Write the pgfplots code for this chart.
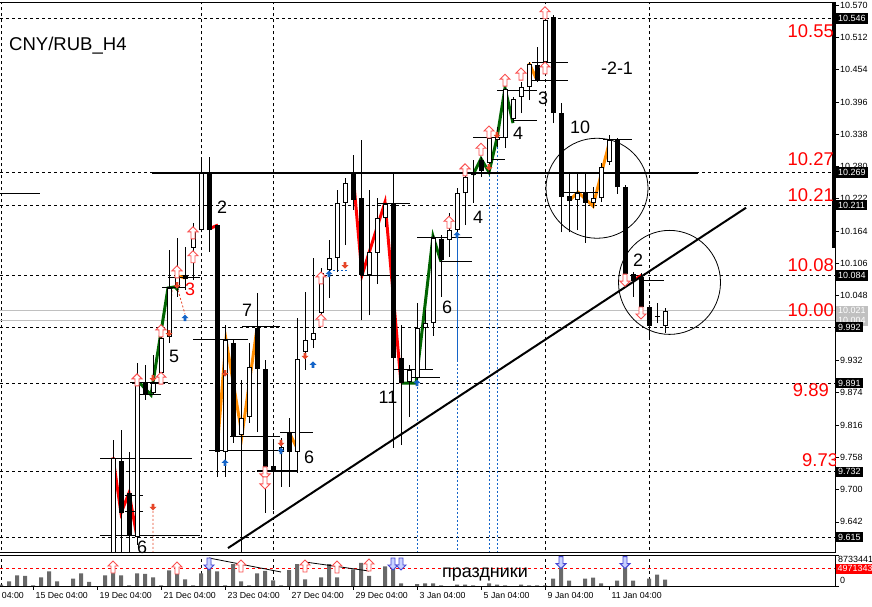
\documentclass[border=0pt]{standalone}
\usepackage{pgfplots}
\pgfplotsset{compat=1.18}
\usepackage{pgfplotstable}
\usepackage{fontspec}
\setmainfont{Liberation Sans}

\definecolor{zred}{RGB}{255,0,0}
\definecolor{zorange}{RGB}{255,140,0}
\definecolor{zgreen}{RGB}{0,100,0}
\definecolor{arrred}{RGB}{230,70,40}
\definecolor{arrblue}{RGB}{20,100,200}
\definecolor{hupc}{RGB}{250,80,80}
\definecolor{hdnc}{RGB}{70,70,210}
\definecolor{hdnf}{RGB}{200,210,255}
\definecolor{volgray}{RGB}{105,105,105}
\definecolor{lvgray}{RGB}{192,192,192}

\pgfdeclareplotmark{hup}{%
  \pgfpathmoveto{\pgfqpoint{0bp}{6bp}}%
  \pgfpathlineto{\pgfqpoint{5bp}{1bp}}%
  \pgfpathlineto{\pgfqpoint{2bp}{1bp}}%
  \pgfpathlineto{\pgfqpoint{2bp}{-6bp}}%
  \pgfpathlineto{\pgfqpoint{-2bp}{-6bp}}%
  \pgfpathlineto{\pgfqpoint{-2bp}{1bp}}%
  \pgfpathlineto{\pgfqpoint{-5bp}{1bp}}%
  \pgfpathclose\pgfusepathqfillstroke}
\pgfdeclareplotmark{hdn}{%
  \pgfpathmoveto{\pgfqpoint{0bp}{-6bp}}%
  \pgfpathlineto{\pgfqpoint{5bp}{-1bp}}%
  \pgfpathlineto{\pgfqpoint{2bp}{-1bp}}%
  \pgfpathlineto{\pgfqpoint{2bp}{6bp}}%
  \pgfpathlineto{\pgfqpoint{-2bp}{6bp}}%
  \pgfpathlineto{\pgfqpoint{-2bp}{-1bp}}%
  \pgfpathlineto{\pgfqpoint{-5bp}{-1bp}}%
  \pgfpathclose\pgfusepathqfillstroke}
\pgfdeclareplotmark{sdn}{%
  \pgfpathmoveto{\pgfqpoint{0bp}{-3.5bp}}%
  \pgfpathlineto{\pgfqpoint{3.5bp}{0bp}}%
  \pgfpathlineto{\pgfqpoint{1.3bp}{0bp}}%
  \pgfpathlineto{\pgfqpoint{1.3bp}{3bp}}%
  \pgfpathlineto{\pgfqpoint{-1.3bp}{3bp}}%
  \pgfpathlineto{\pgfqpoint{-1.3bp}{0bp}}%
  \pgfpathlineto{\pgfqpoint{-3.5bp}{0bp}}%
  \pgfpathclose\pgfusepathqfill}
\pgfdeclareplotmark{sup}{%
  \pgfpathmoveto{\pgfqpoint{0bp}{3.5bp}}%
  \pgfpathlineto{\pgfqpoint{3.5bp}{0bp}}%
  \pgfpathlineto{\pgfqpoint{1.3bp}{0bp}}%
  \pgfpathlineto{\pgfqpoint{1.3bp}{-3bp}}%
  \pgfpathlineto{\pgfqpoint{-1.3bp}{-3bp}}%
  \pgfpathlineto{\pgfqpoint{-1.3bp}{0bp}}%
  \pgfpathlineto{\pgfqpoint{-3.5bp}{0bp}}%
  \pgfpathclose\pgfusepathqfill}

% bullish candles: x open high low close
\pgfplotstableread{
x o h l c
113 9.556 9.789 9.547 9.757
137 9.615 9.927 9.601 9.893
153 9.873 9.942 9.870 9.891
161 9.909 9.992 9.891 9.972
169 9.974 10.130 9.963 10.062
177 10.062 10.152 10.046 10.083
193 10.134 10.179 10.076 10.166
201 10.166 10.294 10.162 10.268
225 9.768 9.996 9.723 9.969
241 9.798 9.897 9.574 9.829
249 9.830 9.963 9.820 9.920
281 9.768 9.793 9.705 9.776
297 9.768 10.008 9.730 9.934
305 9.947 10.055 9.915 9.969
313 9.969 10.116 9.954 9.981
321 10.017 10.098 9.996 10.089
329 10.094 10.148 10.044 10.116
337 10.116 10.238 10.091 10.215
345 10.215 10.259 10.139 10.250
369 10.085 10.238 10.013 10.127
377 10.125 10.223 10.069 10.188
385 10.188 10.213 10.171 10.213
409 9.893 9.924 9.830 9.915
417 9.900 10.035 9.891 9.990
425 9.990 10.022 9.915 9.999
433 9.999 10.157 9.976 10.152
449 10.148 10.197 10.118 10.166
457 10.166 10.241 10.162 10.232
465 10.232 10.274 10.175 10.261
489 10.286 10.340 10.270 10.331
497 10.328 10.351 10.315 10.333
505 10.331 10.421 10.313 10.419
513 10.365 10.405 10.360 10.401
521 10.405 10.432 10.376 10.423
529 10.423 10.468 10.399 10.464
545 10.468 10.548 10.444 10.543
577 10.220 10.268 10.166 10.232
593 10.215 10.243 10.206 10.223
601 10.223 10.286 10.216 10.279
609 10.288 10.337 10.283 10.328
665 9.994 10.026 9.981 10.021
}\candUp

% bearish candles
\pgfplotstableread{
x o h l c
121 9.751 9.807 9.547 9.658
129 9.694 9.768 9.547 9.619
145 9.891 9.924 9.861 9.872
185 10.085 10.136 10.058 10.078
209 10.268 10.297 10.127 10.166
217 10.175 10.175 9.723 9.768
233 9.963 9.969 9.784 9.796
257 9.990 10.053 9.803 9.917
265 9.917 9.933 9.658 9.741
273 9.742 9.789 9.663 9.733
289 9.803 9.829 9.705 9.768
353 10.268 10.301 10.202 10.220
361 10.223 10.328 10.004 10.085
393 10.213 10.268 9.775 9.936
401 9.936 9.996 9.780 9.891
441 10.150 10.157 10.046 10.112
473 10.270 10.292 10.215 10.265
481 10.292 10.297 10.261 10.272
537 10.462 10.495 10.432 10.435
553 10.548 10.552 10.358 10.376
561 10.376 10.394 10.162 10.225
569 10.227 10.268 10.162 10.218
585 10.232 10.268 10.143 10.215
617 10.328 10.331 10.231 10.243
625 10.243 10.247 10.082 10.087
633 10.087 10.091 10.046 10.075
641 10.082 10.089 10.019 10.028
649 10.028 10.031 9.972 9.994
657 10.012 10.035 9.999 10.011
}\candDn

% volume (millions)
\pgfplotstableread{
x v
1 0.37
9 1.35
17 3.07
25 2.87
33 0.2
41 2.49
49 4.21
57 1.35
65 0
73 2.09
81 3.64
89 1.15
97 0
105 3.07
113 4.87
121 3.07
129 0.2
137 3.64
145 3.44
153 2.49
161 0.2
169 4.5
177 5.16
185 1.92
193 0.2
201 3.64
209 7.08
217 4.21
225 0.2
233 6.3
241 1.35
249 0.2
257 3.64
265 4.3
273 1.63
281 0.2
289 4.58
297 6.3
305 1.92
313 0
321 2.49
329 6.3
337 2.49
345 0
353 4.78
361 6.59
369 2.87
377 0
385 5.64
393 5.64
401 0.77
409 0
417 0.57
425 0.77
433 0.77
441 0.2
449 0
457 0.37
465 0.37
473 0.2
481 0
489 0.77
497 0.37
505 0.2
513 0
521 0.37
529 0.2
537 0.2
545 0.2
553 2.09
561 5.36
569 1.52
577 0
585 2.09
593 2.38
601 0.77
609 0
617 1.52
625 5.36
633 1.52
641 0
649 2.09
657 3.24
665 1.8
}\vol

\newcommand{\tickfont}{\fontsize{9}{10}\selectfont}
\newcommand{\datefont}{\fontsize{8.8}{10}\selectfont}
\newcommand{\bigfont}{\fontsize{18}{20}\selectfont}

\begin{document}
\begin{tikzpicture}
\path[use as bounding box] (0bp,0bp) rectangle (872bp,607bp);

\begin{axis}[
  at={(0bp,54bp)}, anchor=south west, scale only axis,
  width=835bp, height=550bp,
  xmin=0, xmax=835, ymin=9.58618, ymax=10.57359,
  clip mode=individual, separate axis lines, axis line style={draw=none},
  unbounded coords=jump,
  xtick=\empty,
  ytick={9.642,9.700,9.758,9.816,9.874,9.932,9.990,10.048,10.106,10.164,10.222,10.280,10.338,10.396,10.454,10.512,10.570},
  ytick pos=right, yticklabel pos=right,
  tick align=outside, major tick length=4bp,
  major tick style={black, line width=0.8bp},
  yticklabel style={font=\tickfont, inner xsep=1bp,
    /pgf/number format/fixed, /pgf/number format/fixed zerofill,
    /pgf/number format/precision=3},
  /pgf/number format/assume math mode=true,
]
% grid / level lines
\addplot[black, line width=0.8bp, dash pattern=on 3bp off 3bp] coordinates {
 (0,10.546) (835,10.546) (835,nan)
 (0,10.269) (835,10.269) (835,nan)
 (0,10.211) (835,10.211) (835,nan)
 (0,10.084) (835,10.084) (835,nan)
 (0,9.992) (835,9.992) (835,nan)
 (0,9.891) (835,9.891) (835,nan)
 (0,9.732) (835,9.732) (835,nan)
 (0,9.615) (835,9.615) (835,nan)
 (1,9.58) (1,10.58) (1,nan)
 (201,9.58) (201,10.58) (201,nan)
 (273,9.58) (273,10.58) (273,nan)
 (545,9.58) (545,10.58) (545,nan)
 (649,9.58) (649,10.58)
};
\addplot[lvgray, line width=1bp] coordinates {(0,10.021) (835,10.021) (835,nan) (0,10.004) (835,10.004)};
% blue & red helper lines
\addplot[arrblue, line width=0.8bp, dash pattern=on 2bp off 2bp] coordinates {
 (417,9.891) (417,9.58) (417,nan)
 (457,9.933) (457,9.58) (457,nan)
 (489,10.279) (489,9.58) (489,nan)
 (497,10.337) (497,9.58) (497,nan)
 (329,10.094) (347,10.094)};
\addplot[arrblue, line width=0.8bp] coordinates {(457,10.157) (457,9.933)};
\addplot[arrred, line width=0.8bp, dash pattern=on 2bp off 2bp] coordinates {
 (153,9.669) (153,9.58) (153,nan)
 (172,10.058) (169,9.981) (169,nan)
 (178,10.058) (185,10.015)};
% zigzag legs
\addplot[zred, line width=3bp] coordinates {
 (113,9.758) (121,9.658) (129,9.694) (137,9.615) (137,nan)
 (209,10.168) (218,10.175) (218,nan)
 (353,10.268) (362,10.085) (385,10.216) (401,9.891) (401,nan)
 (633,10.075) (642,10.085)};
\addplot[zgreen, line width=3bp] coordinates {
 (140,9.891) (151,9.870) (168,10.062) (175,10.064) (178,10.058) (178,nan)
 (401,9.891) (416,9.891) (433,10.155) (441,10.109) (441,nan)
 (473,10.265) (481,10.294) (489,10.270) (497,10.331) (505,10.421) (513,10.358)};
\addplot[zorange, line width=3bp] coordinates {
 (175,10.085) (185,10.080) (185,nan)
 (217,9.768) (226,9.969) (242,9.798) (257,9.990) (257,nan)
 (289,9.803) (298,9.771) (298,nan)
 (529,10.466) (537,10.435) (537,nan)
 (570,10.220) (578,10.234) (593,10.209) (610,10.328)};
% short horizontal levels
\addplot[black, line width=1bp] coordinates {
 (0,10.232) (40,10.232) (40,nan)
 (100,9.755) (192,9.755) (192,nan)
 (100,9.617) (200,9.617) (200,nan)
 (125,9.690) (143,9.690) (143,nan)
 (125,9.660) (143,9.660) (143,nan)
 (130,9.893) (168,9.893) (168,nan)
 (140,9.870) (161,9.870) (161,nan)
 (162,10.062) (185,10.062) (185,nan)
 (168,10.080) (200,10.080) (200,nan)
 (193,9.969) (248,9.969) (248,nan)
 (209,9.771) (280,9.771) (280,nan)
 (230,9.796) (280,9.796) (280,nan)
 (242,9.992) (280,9.992) (280,nan)
 (280,9.803) (313,9.803) (313,nan)
 (362,10.085) (390,10.085) (390,nan)
 (377,10.213) (410,10.213) (410,nan)
 (393,9.915) (433,9.915) (433,nan)
 (412,9.902) (440,9.902) (440,nan)
 (417,10.152) (472,10.152) (472,nan)
 (440,10.109) (472,10.109) (472,nan)
 (473,10.333) (503,10.333) (503,nan)
 (492,10.292) (505,10.292) (505,nan)
 (497,10.417) (537,10.417) (537,nan)
 (513,10.363) (537,10.363) (537,nan)
 (532,10.466) (568,10.466) (568,nan)
 (532,10.435) (568,10.435) (568,nan)
 (560,10.234) (598,10.234) (598,nan)
 (603,10.328) (632,10.328) (632,nan)
 (640,10.075) (664,10.075)};
\addplot[black, line width=2bp] coordinates {(257,9.733) (297,9.733)};
\addplot[black, line width=2bp] coordinates {(152,10.268) (698,10.268)};
% candles: wicks
\addplot[black, line width=1bp, quiver={u=0, v=\thisrow{h}-\thisrow{l}}] table[x=x, y=l] {\candUp};
\addplot[black, line width=1bp, quiver={u=0, v=\thisrow{h}-\thisrow{l}}] table[x=x, y=l] {\candDn};
% bodies
\addplot[black, line width=5bp, quiver={u=0, v=\thisrow{o}-\thisrow{c}}] table[x=x, y=c] {\candDn};
\addplot[black, line width=5bp, quiver={u=0, v=\thisrow{c}-\thisrow{o}}] table[x=x, y=o] {\candUp};
\addplot[white, line width=3bp, quiver={u=0, v=\thisrow{c}-\thisrow{o},
   every arrow/.append style={shorten <=1bp, shorten >=1bp}}] table[x=x, y=o] {\candUp};
% trend line
\addplot[black, line width=2bp] coordinates {(228,9.595) (746,10.206)};
% right edge bar
\addplot[black, line width=3bp] coordinates {(833.5,10.134) (833.5,10.58)};
% signal arrows
\addplot[only marks, mark=hup, mark options={draw=hupc, fill=white, line width=0.9bp}] coordinates {
 (137,9.897) (161,9.900) (161,9.985) (177,10.091) (193,10.161) (193,10.118)
 (321,10.080) (321,10.004) (449,10.180) (465,10.274) (481,10.311) (489,10.342)
 (505,10.435) (521,10.446) (545,10.556) (545,10.457)};
\addplot[only marks, mark=hdn, mark options={draw=hupc, fill=white, line width=0.9bp}] coordinates {
 (265,9.730) (265,9.712) (625,10.076) (641,10.017)};
\addplot[only marks, mark=sdn, mark options={fill=arrred, draw=none}] coordinates {
 (153,9.900) (169,9.981) (177,10.067) (153,9.669) (225,9.909) (281,9.784)
 (305,9.940) (345,10.103) (489,10.279) (497,10.337)};
\addplot[only marks, mark=sup, mark options={fill=arrblue, draw=none}] coordinates {
 (185,10.008) (225,9.748) (281,9.769) (313,9.924) (329,10.087) (417,9.891) (457,10.157)};
% circles
\draw[line width=0.8bp] (axis cs:597,10.241) ellipse [x radius=51bp, y radius=50bp];
\draw[line width=0.8bp] (axis cs:669.5,10.072) ellipse [x radius=51bp, y radius=52bp];
% frame
\draw[line width=1bp] (rel axis cs:0,1) -- (rel axis cs:1,1) -- (rel axis cs:1,0) -- (rel axis cs:0,0);
% texts
\node[anchor=west, font=\fontsize{18.6}{20}\selectfont, inner sep=0pt] at (axis cs:9,10.4964) {CNY/RUB\_H4};
\begin{scope}[every node/.style={font=\bigfont, inner sep=0pt}]
\node at (axis cs:222,10.2074) {2};
\node[text=zred] at (axis cs:190,10.0601) {3};
\node at (axis cs:174,9.9399) {5};
\node at (axis cs:247,10.0224) {7};
\node at (axis cs:142,9.5969) {6};
\node at (axis cs:309,9.7585) {6};
\node at (axis cs:388,9.8662) {11};
\node at (axis cs:447,10.0278) {6};
\node at (axis cs:478,10.1894) {4};
\node at (axis cs:518,10.3402) {4};
\node at (axis cs:543,10.4030) {3};
\node at (axis cs:580,10.3510) {10};
\node at (axis cs:617,10.4569) {-2-1};
\node at (axis cs:638,10.1122) {2};
\end{scope}
\begin{scope}[every node/.style={font=\fontsize{18.5}{20}\selectfont, text=zred, inner sep=0pt, anchor=east}]
\node at (axis cs:834,10.523) {10.55};
\node at (axis cs:834,10.2935) {10.27};
\node at (axis cs:834,10.2289) {10.21};
\node at (axis cs:834,10.1032) {10.08};
\node at (axis cs:834,10.0224) {10.00};
\node at (axis cs:829,9.8788) {9.89};
\end{scope}
\begin{scope}
\clip (rel axis cs:0,0) rectangle (rel axis cs:1,1);
\node[font=\fontsize{18.5}{20}\selectfont, text=zred, inner sep=0pt, anchor=west] at (axis cs:802,9.7531) {9.73};
\end{scope}
% price boxes on the scale
\begin{scope}[every node/.style={font=\tickfont, anchor=west, inner xsep=2bp, inner ysep=0.5bp, minimum height=10.5bp}]
\node[fill=black, text=white] at (axis cs:836,10.546) {10.546};
\node[fill=black, text=white] at (axis cs:836,10.269) {10.269};
\node[fill=black, text=white] at (axis cs:836,10.211) {10.211};
\node[fill=black, text=white] at (axis cs:836,10.084) {10.084};
\node[fill=lvgray, text=white] at (axis cs:836,10.004) {10.004};
\node[fill=lvgray, text=white] at (axis cs:836,10.021) {10.021};
\node[fill=black, text=white] at (axis cs:836,9.992) {9.992};
\node[fill=black, text=white] at (axis cs:836,9.891) {9.891};
\node[fill=black, text=white] at (axis cs:836,9.732) {9.732};
\node[fill=black, text=white] at (axis cs:836,9.615) {9.615};
\end{scope}
\end{axis}

\begin{axis}[
  at={(0bp,21bp)}, anchor=south west, scale only axis,
  width=835bp, height=30.5bp,
  xmin=0, xmax=835, ymin=0, ymax=8.733441,
  clip mode=individual, separate axis lines, axis line style={draw=none},
  unbounded coords=jump,
  xtick={33,97,161,225,289,353,417,481,545,609},
  xticklabels={,,,,,,,,,},
  ytick={0,8.733441}, yticklabels={,},
  xtick pos=bottom, ytick pos=right,
  tick align=outside, major tick length=4bp,
  major tick style={black, line width=0.8bp},
]
\addplot[black, line width=0.8bp, dash pattern=on 3bp off 3bp] coordinates {
 (1,0) (1,9) (1,nan) (201,0) (201,9) (201,nan) (273,0) (273,9) (273,nan)
 (545,0) (545,9) (545,nan) (649,0) (649,9)};
\addplot[red, line width=0.8bp, dash pattern=on 3bp off 3bp] coordinates {(0,4.971343) (835,4.971343)};
\addplot[ybar, bar width=4bp, fill=volgray, draw=none] table[x=x, y=v] {\vol};
\addplot[black, line width=0.8bp] coordinates {(209,8.02) (281,4.01) (281,nan) (305,6.88) (369,4.3)};
\addplot[only marks, mark=hup, mark options={draw=hupc, fill=white, line width=0.9bp}] coordinates {
 (113,5.44) (177,5.16) (241,5.73) (305,5.73) (337,5.44) (369,6.0)};
\addplot[only marks, mark=hdn, mark options={draw=hdnc, fill=hdnf, line width=0.9bp}] coordinates {
 (209,6.3) (393,6.3) (401,6.3) (561,6.7) (625,6.7)};
\draw[line width=1bp] (rel axis cs:0,1) -- (rel axis cs:1,1) -- (rel axis cs:1,0) -- (rel axis cs:0,0);
\node[font=\bigfont, inner sep=0pt] at (axis cs:485,3.15) {праздники};
\node[font=\tickfont, anchor=west, inner sep=0pt] at (axis cs:838,7.6) {8733441};
\node[font=\tickfont, anchor=west, inner sep=0pt] at (axis cs:840,1.6) {0};
\node[font=\tickfont, fill=red, text=white, anchor=west, inner xsep=1.5bp, inner ysep=0.5bp, minimum height=10bp] at (axis cs:836,4.971343) {4971343};
\end{axis}

\foreach \xx/\lab in {-31/13 Dec 04:00, 33/15 Dec 04:00, 97/19 Dec 04:00, 161/21 Dec 04:00, 225/23 Dec 04:00, 289/27 Dec 04:00, 353/29 Dec 04:00, 417/3 Jan 04:00, 481/5 Jan 04:00, 545/9 Jan 04:00, 609/11 Jan 04:00}
  \node[anchor=base west, inner sep=0pt, font=\datefont] at ({\xx*1bp+2.5bp}, 8.7bp) {\lab};
\end{tikzpicture}
\end{document}
